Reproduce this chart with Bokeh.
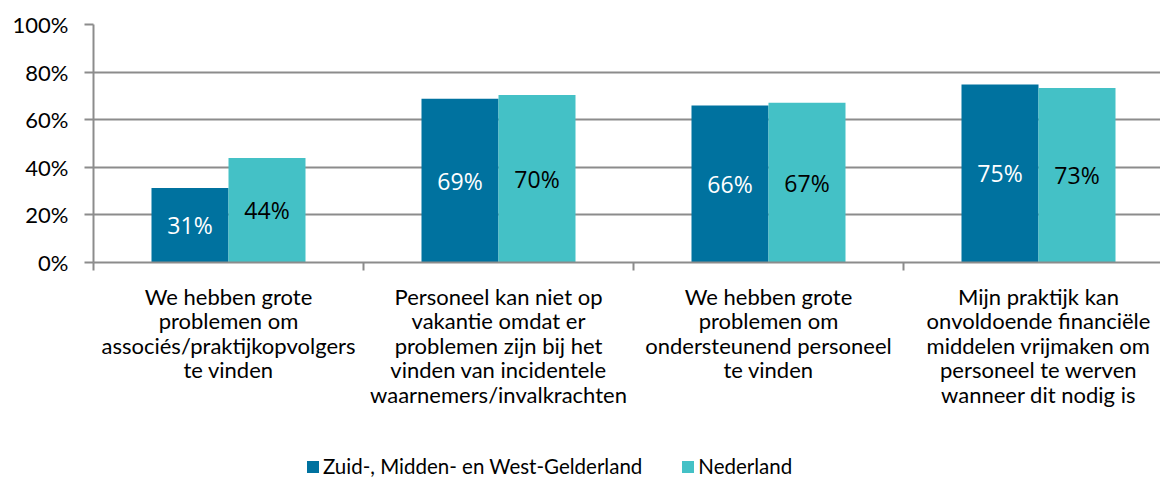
from bokeh.plotting import figure
from bokeh.models import (ColumnDataSource, Range1d, FixedTicker, NumeralTickFormatter,
                          Legend, LegendItem, LinearAxis, Grid)
from bokeh.layouts import column
from bokeh.transform import dodge
from bokeh.embed import file_html
from bokeh.resources import INLINE
from bokeh.core.properties import value

categories = [
    "We hebben grote\nproblemen om\nassociés/praktijkopvolgers\nte vinden",
    "Personeel kan niet op\nvakantie omdat er\nproblemen zijn bij het\nvinden van incidentele\nwaarnemers/invalkrachten",
    "We hebben grote\nproblemen om\nondersteunend personeel\nte vinden",
    "Mijn praktijk kan\nonvoldoende financiële\nmiddelen vrijmaken om\npersoneel te werven\nwanneer dit nodig is",
]
series_names = ["Zuid-, Midden- en West-Gelderland", "Nederland"]
zmwg = [31.3, 68.8, 66.0, 74.8]
nederland = [43.9, 70.4, 67.1, 73.3]
y_ticks = [0, 20, 40, 60, 80, 100]

DARK = "#00729F"
LIGHT = "#44C1C6"
GRID = "#8C8C8C"
FONT = "Lato"

pos = [i + 0.5 for i in range(len(categories))]
src = ColumnDataSource(dict(
    x=pos,
    a=[v / 100 for v in zmwg],
    b=[v / 100 for v in nederland],
    a_mid=[v / 200 for v in zmwg],
    b_mid=[v / 200 for v in nederland],
    a_lbl=[f"{round(v)}%" for v in zmwg],
    b_lbl=[f"{round(v)}%" for v in nederland],
))

W = 1160
H_MAIN, H_LEG = 420, 58
LEFT = 93
p = figure(width=W, height=H_MAIN, output_backend="svg", toolbar_location=None,
           x_range=Range1d(0, (W - LEFT) / 270), y_range=Range1d(0, 1.0),
           min_border_left=LEFT, min_border_right=0, min_border_top=24,
           min_border_bottom=H_MAIN - 262, x_axis_type=None, y_axis_type=None)
p.outline_line_color = None
p.background_fill_color = "white"
p.border_fill_color = "white"

bw = 0.2852
r1 = p.vbar(x=dodge("x", -bw / 2, range=p.x_range), top="a", width=bw, source=src,
            fill_color=DARK, line_color=None)
r2 = p.vbar(x=dodge("x", bw / 2, range=p.x_range), top="b", width=bw, source=src,
            fill_color=LIGHT, line_color=None)

p.text(x=dodge("x", -bw / 2, range=p.x_range), y="a_mid", text="a_lbl", source=src,
       text_color="white", text_font=value("Open Sans"), text_font_size="23px",
       text_align="center", text_baseline="middle")
p.text(x=dodge("x", bw / 2, range=p.x_range), y="b_mid", text="b_lbl", source=src,
       text_color="black", text_font=value("Open Sans"), text_font_size="23px",
       text_align="center", text_baseline="middle")

# y axis
yax = LinearAxis(ticker=FixedTicker(ticks=[t / 100 for t in y_ticks]),
                 formatter=NumeralTickFormatter(format="0%"))
yax.axis_line_color = GRID
yax.axis_line_width = 2
yax.major_tick_line_color = GRID
yax.major_tick_line_width = 2
yax.major_tick_out = 9
yax.major_tick_in = 0
yax.minor_tick_line_color = None
yax.major_label_text_font = FONT
yax.major_label_text_font_size = "22px"
yax.major_label_text_color = "black"
yax.major_label_standoff = 16
p.add_layout(yax, "left")

# x axis
xax = LinearAxis(ticker=FixedTicker(ticks=pos, minor_ticks=[0, 1, 2, 3, 4]))
xax.major_label_overrides = {pv: c for pv, c in zip(pos, categories)}
xax.axis_line_color = GRID
xax.axis_line_width = 2
xax.major_tick_line_color = None
xax.major_tick_out = 0
xax.major_tick_in = 0
xax.minor_tick_line_color = GRID
xax.minor_tick_line_width = 2
xax.minor_tick_out = 8
xax.minor_tick_in = 0
xax.major_label_text_font = FONT
xax.major_label_text_font_size = "22px"
xax.major_label_text_color = "black"
xax.major_label_text_line_height = 0.91
xax.major_label_standoff = 12
xax.major_label_orientation = "horizontal"
p.add_layout(xax, "below")

g = Grid(dimension=1, ticker=FixedTicker(ticks=[t / 100 for t in y_ticks]),
         grid_line_color=GRID, grid_line_width=2)
p.add_layout(g)

# legend strip below the chart (its swatch renderers share the data but lie outside its view)
pl = figure(width=W, height=H_LEG, output_backend="svg", toolbar_location=None,
            x_range=Range1d(0, 1), y_range=Range1d(2, 3),
            min_border_left=LEFT, min_border_right=0, min_border_top=0, min_border_bottom=0,
            x_axis_type=None, y_axis_type=None)
pl.outline_line_color = None
pl.xgrid.visible = False
pl.ygrid.visible = False
l1 = pl.vbar(x="x", top="a", width=bw, source=src, fill_color=DARK, line_color=None)
l2 = pl.vbar(x="x", top="b", width=bw, source=src, fill_color=LIGHT, line_color=None)

legend = Legend(items=[LegendItem(label=series_names[0], renderers=[l1]),
                       LegendItem(label=series_names[1], renderers=[l2])],
                orientation="horizontal", location=(305 - LEFT, 0))
legend.label_text_font = FONT
legend.label_text_font_size = "20.5px"
legend.label_text_color = "black"
legend.glyph_width = 15
legend.glyph_height = 15
legend.label_standoff = 3
legend.spacing = 38
legend.padding = 0
legend.margin = 0
legend.border_line_color = None
legend.background_fill_alpha = 0
pl.add_layout(legend, "center")

layout = column(p, pl, spacing=0)
open("out.html", "w").write(file_html(layout, INLINE))
